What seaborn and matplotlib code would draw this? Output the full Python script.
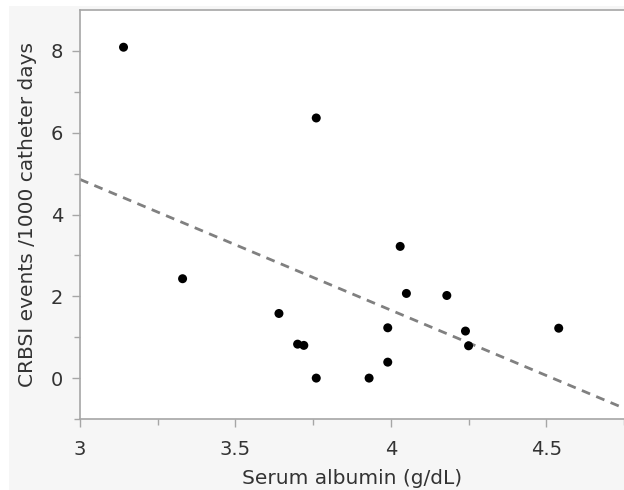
import numpy as np
import pandas as pd
import seaborn as sns
import matplotlib.pyplot as plt
from matplotlib.patches import Rectangle

# values
albumin = [3.14, 3.33, 3.76, 3.64, 3.70, 3.72, 3.76, 3.93,
           3.99, 3.99, 4.03, 4.05, 4.18, 4.24, 4.25, 4.54]
crbsi = [8.09, 2.43, 6.36, 1.58, 0.83, 0.80, 0.00, 0.00,
         1.23, 0.39, 3.22, 2.07, 2.02, 1.15, 0.79, 1.22]
x_ticks = [3, 3.5, 4, 4.5]
x_tick_labels = ["3", "3.5", "4", "4.5"]
y_ticks = [0, 2, 4, 6, 8]

df = pd.DataFrame({"albumin": albumin, "crbsi": crbsi})

sns.set_style("ticks")
plt.rcParams['font.family'] = ['DejaVu Sans']

axis_grey = "#a6a6a6"
text_col = "#333333"
fig = plt.figure(figsize=(6.24, 4.90), dpi=100, facecolor="white")
# light grey panel behind the plot, with a thin white margin top/left
fig.patches.append(Rectangle((9 / 624, 0), 1, 1 - 6 / 490, transform=fig.transFigure,
                             facecolor="#f6f6f6", edgecolor="none", zorder=-10))

ax = fig.add_axes([80 / 624, 71 / 490, 544 / 624, 409 / 490])
ax.set_facecolor("white")
ax.set_xlim(3, 4.745)
ax.set_ylim(-1, 9)

sns.regplot(data=df, x="albumin", y="crbsi", ax=ax, ci=None, truncate=False,
            scatter_kws=dict(s=42, color="black", alpha=1, edgecolor="none", zorder=3),
            line_kws=dict(color="#808080", lw=2.0, linestyle=(0, (3.2, 2.4)), zorder=2))

ax.set_xticks(x_ticks)
ax.set_xticklabels(x_tick_labels)
ax.set_xticks([3.25, 3.75, 4.25, 4.75], minor=True)
ax.set_yticks(y_ticks)
ax.set_yticklabels([str(v) for v in y_ticks])
ax.set_yticks([-1, 1, 3, 5, 7], minor=True)

ax.tick_params(axis="both", which="major", length=6, width=1, color=axis_grey,
               labelsize=14, labelcolor=text_col)
ax.tick_params(axis="x", which="major", pad=9)
ax.tick_params(axis="y", which="major", pad=6)
ax.tick_params(axis="both", which="minor", length=4, width=1, color=axis_grey)

for side in ["left", "bottom", "top"]:
    ax.spines[side].set_visible(True)
    ax.spines[side].set_color(axis_grey)
    ax.spines[side].set_linewidth(1.2)
ax.spines["right"].set_visible(False)

ax.set_xlabel("Serum albumin (g/dL)", fontsize=14.5, color=text_col, labelpad=7)
ax.set_ylabel("CRBSI events /1000 catheter days", fontsize=14.5, color=text_col, labelpad=10)

plt.savefig("out.png", dpi=100, facecolor=fig.get_facecolor())
